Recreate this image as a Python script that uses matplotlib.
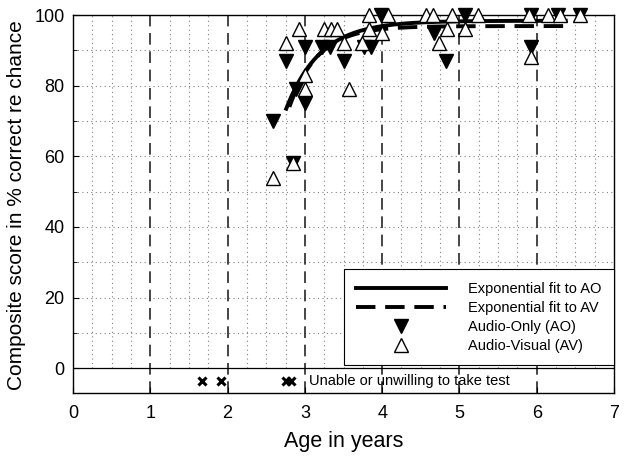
import numpy as np
import matplotlib
matplotlib.use("Agg")
import matplotlib.pyplot as plt
from matplotlib.lines import Line2D

plt.rcParams['font.family'] = ['Liberation Sans', 'DejaVu Sans']

# Audio-Only (AO) scores
ao_age = [2.59, 2.75, 2.84, 2.88, 3.0, 3.0, 3.22, 3.32, 3.5, 3.76, 3.85, 3.98,
          4.67, 4.82, 5.07, 5.92, 5.92, 6.28, 6.56]
ao_score = [70, 87, 58, 79, 91, 75, 91, 91, 87, 91, 91, 100,
            95, 87, 100, 100, 91, 100, 100]

# Audio-Visual (AV) scores
av_age = [2.59, 2.84, 2.75, 2.92, 3.0, 3.0, 3.25, 3.34, 3.42, 3.5, 3.57, 3.74,
          3.83, 3.83, 4.0, 4.08, 4.57, 4.66, 4.73, 4.84, 4.9, 5.07, 5.24,
          5.9, 5.92, 6.15, 6.3, 6.56]
av_score = [54, 58, 92, 96, 83, 79, 96, 96, 96, 92, 79, 92,
            100, 96, 95, 100, 100, 100, 92, 96, 100, 96, 100,
            100, 88, 100, 100, 100]

# Children unable or unwilling to take the test
untested_age = [1.67, 1.92, 2.75, 2.82]
untested_y = -3.5

# Exponential fit parameters: y = A - B * exp(-k (x - x0))
ao_fit = dict(A=98.4, B=25.4, k=2.26, x0=2.75, x1=6.4)
av_fit = dict(A=96.9, B=22.9, k=2.71, x0=2.8, x1=6.4)

x_ticks = [0, 1, 2, 3, 4, 5, 6, 7]
y_ticks = [0, 20, 40, 60, 80, 100]

fig = plt.figure(figsize=(6.24, 4.58), dpi=100)
ax = fig.add_axes([0.117, 0.142, 0.867, 0.825])
ax.set_xlim(0, 7)
ax.set_ylim(-7, 100)

# dotted grid in the 0..100 region
for gx in np.arange(0.25, 7, 0.25):
    if abs(gx - round(gx)) > 1e-6:
        ax.plot([gx, gx], [0, 100], color='0.5', lw=0.8, ls=(0, (1, 3)), zorder=1)
for gy in range(10, 100, 10):
    ax.plot([0, 7], [gy, gy], color='0.5', lw=0.8, ls=(0, (1, 3)), zorder=1)

# dashed vertical lines at each year
for vx in range(1, 7):
    ax.plot([vx, vx], [-7, 100], color='0.15', lw=1.2, ls=(0, (7, 4)), zorder=1.5)

ax.axhline(0, color='black', lw=0.9, zorder=2)

def fit_curve(p):
    xs = np.linspace(p['x0'], p['x1'], 200)
    return xs, p['A'] - p['B'] * np.exp(-p['k'] * (xs - p['x0']))

xs, ys = fit_curve(ao_fit)
ax.plot(xs, ys, color='black', lw=2.8, zorder=3, solid_capstyle='butt')
xs, ys = fit_curve(av_fit)
ax.plot(xs, ys, color='black', lw=2.8, ls=(0, (5, 2.5)), zorder=3)

ax.plot(ao_age, ao_score, ls='none', marker='v', ms=10, mfc='black', mec='black',
        zorder=4, clip_on=False)
ax.plot(av_age, av_score, ls='none', marker='^', ms=10, mfc='white', mec='black',
        mew=1.0, zorder=5, clip_on=False)

ax.plot(untested_age, [untested_y] * len(untested_age), ls='none', marker='x',
        ms=6, mew=2.2, color='black', zorder=4)
ax.text(3.05, untested_y, 'Unable or unwilling to take test', fontsize=10.5,
        va='center', ha='left', zorder=4)

ax.set_xticks(x_ticks)
ax.set_yticks(y_ticks)
ax.set_yticks(range(10, 100, 20), minor=True)
ax.tick_params(axis='both', which='both', direction='in', labelsize=13)
ax.tick_params(axis='both', which='major', length=4)
ax.tick_params(axis='y', which='minor', length=3)
ax.tick_params(axis='x', pad=9)
ax.tick_params(axis='y', pad=6)
ax.set_xlabel('Age in years', fontsize=15.5, labelpad=6)
ax.set_ylabel('Composite score in % correct re chance', fontsize=15)
ax.yaxis.set_label_coords(-0.086, 0.497)
for s in ax.spines.values():
    s.set_linewidth(1.0)

handles = [
    Line2D([], [], color='black', lw=2.8),
    Line2D([], [], color='black', lw=2.8, ls=(0, (5, 2.5))),
    Line2D([], [], ls='none', marker='v', ms=10, mfc='black', mec='black'),
    Line2D([], [], ls='none', marker='^', ms=10, mfc='white', mec='black'),
]
labels = ['Exponential fit to AO', 'Exponential fit to AV',
          'Audio-Only (AO)', 'Audio-Visual (AV)']
leg = ax.legend(handles, labels, loc='lower right', bbox_to_anchor=(1.0, 0.074),
                fontsize=10.5, handlelength=6.2, handletextpad=1.5,
                labelspacing=0.34, borderpad=0.85, fancybox=False,
                framealpha=1, edgecolor='black', borderaxespad=0)
leg.get_frame().set_linewidth(0.8)
leg.set_zorder(10)

fig.savefig('out.png', dpi=100)
